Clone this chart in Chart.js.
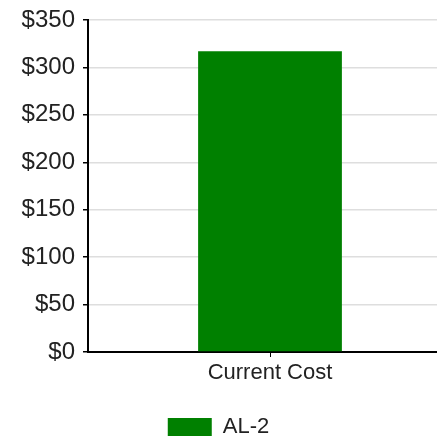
<!DOCTYPE html>
<html>
<head>
<meta charset="utf-8">
<script src="https://cdn.jsdelivr.net/npm/chart.js@4"></script>
<style>
  html, body { margin: 0; padding: 0; background: #fff; overflow: hidden; }
  canvas { display: block; }
</style>
</head>
<body>
<canvas id="cost-chart" width="437" height="440"></canvas>
<script>
const categories = ["Current Cost"];
const seriesName = "AL-2";
const seriesValues = [317];
const yTicks = [0, 50, 100, 150, 200, 250, 300, 350];

const font = "'Liberation Sans', Arial, sans-serif";
const overhang = 15; // plot area runs this far past the right edge

// stretch the plot area past the right edge and push the legend down
const layoutTweak = {
  id: "layoutTweak",
  afterLayout(chart) {
    const x = chart.scales.x;
    x.right += overhang;
    x.width += overhang;
    x.configure();
    chart.chartArea.right += overhang;
    chart.chartArea.width += overhang;
    const lg = chart.legend;
    lg.top += 8;
    lg.bottom += 8;
  },
};

new Chart(document.getElementById("cost-chart"), {
  type: "bar",
  data: {
    labels: categories,
    datasets: [
      {
        label: seriesName,
        data: seriesValues,
        backgroundColor: "#008000",
        borderWidth: 0,
        categoryPercentage: 0.5,
        barPercentage: 0.79,
      },
    ],
  },
  options: {
    responsive: false,
    animation: false,
    layout: { padding: 0 },
    scales: {
      x: {
        grid: {
          offset: false,
          drawOnChartArea: false,
          tickColor: "#000",
          tickLength: 5,
        },
        border: { color: "#000", width: 2 },
        ticks: {
          color: "#222",
          padding: 3,
          font: { family: font, size: 22 },
        },
        afterFit: (scale) => {
          scale.height = 46;
        },
      },
      y: {
        min: yTicks[0],
        max: yTicks[yTicks.length - 1],
        afterBuildTicks: (scale) => {
          scale.ticks = yTicks.map((v) => ({ value: v }));
        },
        grid: {
          color: "#dedede",
          lineWidth: 1.5,
          tickColor: "#000",
          tickLength: 5,
        },
        border: { color: "#000", width: 2 },
        ticks: {
          color: "#222",
          padding: 8,
          font: { family: font, size: 24, lineHeight: 1 },
          callback: (v) => "$" + v,
        },
        afterFit: (scale) => {
          scale.width = 88;
        },
      },
    },
    plugins: {
      legend: {
        position: "bottom",
        labels: {
          boxWidth: 44,
          boxHeight: 18,
          color: "#222",
          font: { family: font, size: 22 },
        },
      },
      tooltip: { enabled: false },
    },
  },
  plugins: [layoutTweak],
});
</script>
</body>
</html>
